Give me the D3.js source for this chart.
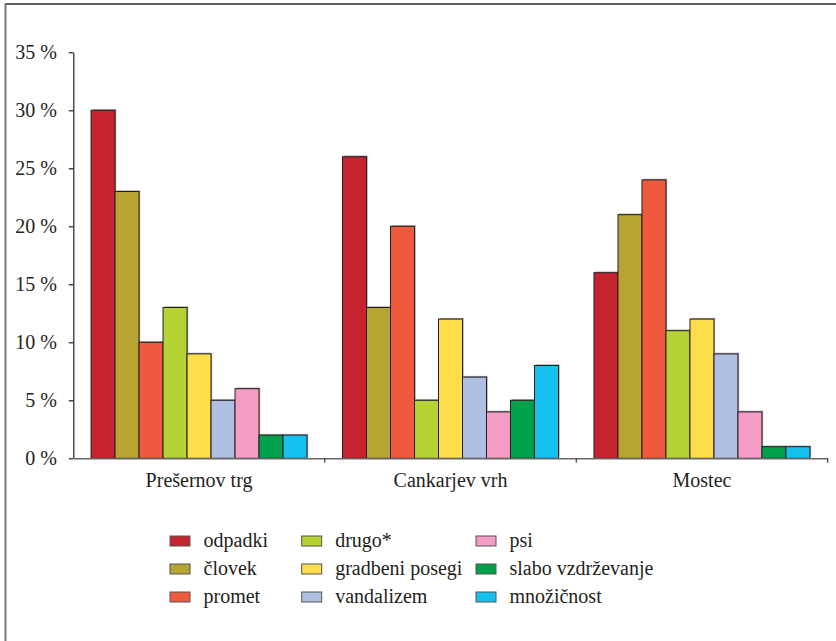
<!DOCTYPE html>
<html>
<head>
<meta charset="utf-8">
<script src="https://cdn.jsdelivr.net/npm/d3@7"></script>
<style>
  html, body { margin: 0; padding: 0; background: #fff; }
  svg { display: block; }
  text { font-family: "Liberation Serif", "Times New Roman", serif; fill: #231f20; }
</style>
</head>
<body>
<svg id="chart" width="836" height="641"></svg>
<script>
const groups = ["Prešernov trg", "Cankarjev vrh", "Mostec"];
const seriesNames = ["odpadki", "človek", "promet", "drugo*", "gradbeni posegi", "vandalizem", "psi", "slabo vzdrževanje", "množičnost"];
const seriesColors = ["#c5242f", "#b8a432", "#ef5a3e", "#b5d334", "#fedf4b", "#afbfe1", "#f39cc4", "#00a14b", "#16c1f0"];
const presernov = [30, 23, 10, 13, 9, 5, 6, 2, 2];
const cankarjev = [26, 13, 20, 5, 12, 7, 4, 5, 8];
const mostec = [16, 21, 24, 11, 12, 9, 4, 1, 1];
const groupValues = [presernov, cankarjev, mostec];
const yTicks = [0, 5, 10, 15, 20, 25, 30, 35];

(function () {
const svg = d3.select("#chart");
const FS = "20px";

// frame
svg.append("line").attr("x1", 5).attr("x2", 836).attr("y1", 4).attr("y2", 4)
  .attr("stroke", "#2a2a2a").attr("stroke-width", 1.6);
svg.append("line").attr("x1", 5.5).attr("x2", 5.5).attr("y1", 3.5).attr("y2", 641)
  .attr("stroke", "#777").attr("stroke-width", 2);

const pLeft = 73.3, pRight = 827.7, pTop = 52.3, pBottom = 458.3;
const x0 = d3.scaleBand().domain(groups).range([pLeft, pRight]).paddingInner(0).paddingOuter(0);
const x1 = d3.scaleBand().domain(seriesNames).range([0, x0.bandwidth()]).paddingInner(0).paddingOuter(0.74);
const y = d3.scaleLinear().domain([0, 35]).range([pBottom, pTop]);
const color = d3.scaleOrdinal().domain(seriesNames).range(seriesColors);

const data = groups.map((g, gi) => ({ group: g, values: seriesNames.map((s, si) => ({ s, v: groupValues[gi][si] })) }));

// bars
const gg = svg.append("g").selectAll("g").data(data).join("g")
  .attr("transform", d => `translate(${x0(d.group)},0)`);
gg.selectAll("rect.sh").data(d => d.values).join("rect").attr("class", "sh")
  .attr("x", d => x1(d.s) + 1.2).attr("y", d => y(d.v) - 1.2)
  .attr("width", x1.bandwidth()).attr("height", d => y(0) - y(d.v))
  .attr("fill", "#a8a8a8");
gg.selectAll("rect.bar").data(d => d.values).join("rect").attr("class", "bar")
  .attr("x", d => x1(d.s)).attr("y", d => y(d.v))
  .attr("width", x1.bandwidth()).attr("height", d => y(0) - y(d.v))
  .attr("fill", d => color(d.s)).attr("stroke", "#231f20").attr("stroke-width", 1);

// y axis
const yAxis = svg.append("g").attr("transform", `translate(${pLeft},0)`)
  .call(d3.axisLeft(y).tickValues(yTicks).tickFormat(d => d + " %").tickSize(4.5).tickSizeOuter(0).tickPadding(12));
yAxis.select(".domain").attr("stroke", "#231f20").attr("stroke-width", 1.2);
yAxis.selectAll(".tick line").attr("stroke", "#231f20").attr("stroke-width", 1.2);
yAxis.selectAll("text").attr("font-size", FS)
  .attr("font-family", "Liberation Serif, serif").attr("fill", "#231f20").attr("dy", "0.33em");

// x axis
const xAxis = svg.append("g").attr("transform", `translate(0,${pBottom})`)
  .call(d3.axisBottom(x0).tickSize(0).tickSizeOuter(0).tickPadding(22));
xAxis.select(".domain").attr("stroke", "#666").attr("stroke-width", 1.5);
xAxis.selectAll("text").attr("font-size", FS)
  .attr("font-family", "Liberation Serif, serif").attr("fill", "#231f20").attr("dy", "0.33em");
xAxis.selectAll("line.bound").data(groups).join("line").attr("class", "bound")
  .attr("x1", d => x0(d) + x0.bandwidth()).attr("x2", d => x0(d) + x0.bandwidth())
  .attr("y1", 0).attr("y2", 4.5).attr("stroke", "#231f20").attr("stroke-width", 1);

// legend
const legCols = [170, 301.7, 476];
const legRows = [536, 564, 592];
const leg = svg.append("g").selectAll("g").data(seriesNames).join("g")
  .attr("transform", (d, i) => `translate(${legCols[Math.floor(i / 3)]},${legRows[i % 3]})`);
leg.append("rect").attr("width", 20).attr("height", 10)
  .attr("fill", d => color(d)).attr("stroke", "#555").attr("stroke-width", 1);
leg.append("text").attr("x", 33.5).attr("y", 11)
  .attr("font-size", FS).text(d => d);
})();
</script>
</body>
</html>
